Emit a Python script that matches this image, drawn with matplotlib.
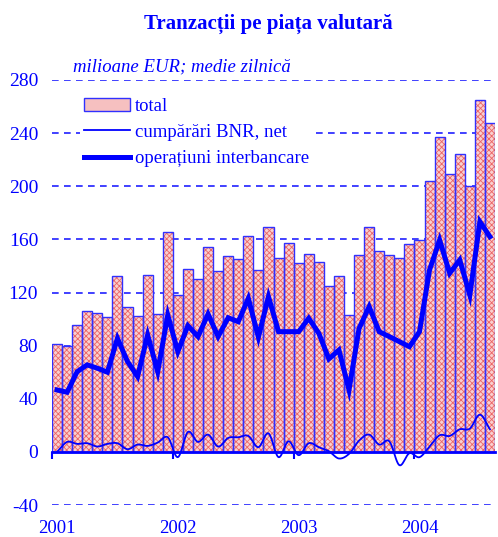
import numpy as np
import matplotlib
matplotlib.use("Agg")
import matplotlib.pyplot as plt
from matplotlib.patches import Patch
from matplotlib.transforms import blended_transform_factory

# monthly data, Jan 2001 - Aug 2004 (milioane EUR, medie zilnica)
total = [81.5, 80, 95.5, 105.8, 104.6, 101.3, 132.2, 109.3, 102, 132.9, 104, 165.8,
         117.9, 137.4, 129.9, 154, 136.2, 147.5, 145.2, 162.5, 136.7, 169.5, 146, 157.3,
         142, 148.7, 142.7, 125.2, 132.4, 102.8, 148, 169.3, 151, 148, 146.2, 156.5,
         159.8, 203.7, 236.8, 209, 224, 200, 265, 248]
interbancare = [46.6, 44.9, 60.4, 65.5, 63, 60, 85.5, 68, 56.7, 88, 60.4, 103,
                75.5, 95, 86.8, 103.8, 86.8, 101, 98, 115.6, 86.3, 116.9, 90.5, 90.5,
                90.5, 100.6, 89.3, 70, 76.7, 46.6, 93, 109.3, 90.5, 86.8, 83, 79.2,
                90.5, 137, 159.5, 134.5, 144.5, 118, 173.3, 162]
bnr_net = [0, 7.5, 6, 6.5, 4, 6, 6.5, 2, 5.5, 4.5, 7, 11,
           -4, 15, 7.5, 13, 4, 10.5, 11, 12, 3.5, 14, -4, 8,
           -2.5, 6.5, 3.5, 0.5, -5, -1.5, 8.5, 13, 5.5, 8, -10, -1,
           -4, 4, 12.5, 12, 17, 17.5, 28, 17]
years = ['2001', '2002', '2003', '2004']
yticks = [-40, 0, 40, 80, 120, 160, 200, 240, 280]

BLUE = '#0000ff'
plt.rcParams['font.family'] = ['Liberation Serif', 'DejaVu Serif']
plt.rcParams['hatch.linewidth'] = 0.6


def smooth(x, y, n=12):
    # catmull-rom curve through the points (like excel "smoothed line")
    x = np.asarray(x, float)
    y = np.asarray(y, float)
    px = np.concatenate([[2 * x[0] - x[1]], x, [2 * x[-1] - x[-2]]])
    py = np.concatenate([[2 * y[0] - y[1]], y, [2 * y[-1] - y[-2]]])
    xs, ys = [], []
    t = np.linspace(0, 1, n, endpoint=False)
    for i in range(1, len(px) - 2):
        for p, out in ((px, xs), (py, ys)):
            p0, p1, p2, p3 = p[i - 1], p[i], p[i + 1], p[i + 2]
            out.extend(0.5 * (2 * p1 + (-p0 + p2) * t
                              + (2 * p0 - 5 * p1 + 4 * p2 - p3) * t ** 2
                              + (-p0 + 3 * p1 - 3 * p2 + p3) * t ** 3))
    xs.append(x[-1])
    ys.append(y[-1])
    return np.array(xs), np.array(ys)


fig = plt.figure(figsize=(4.98, 5.37), dpi=100)
ax = fig.add_axes([52 / 498, 32 / 537, 443 / 498, 425 / 537])

x = np.arange(len(total))

ax.bar(x, total, width=1.0, color='#f9cfcf', edgecolor='#ec6464', hatch='xxxxxx',
       linewidth=0, zorder=2)
ax.bar(x, total, width=1.0, fill=False, edgecolor='#3030ff', linewidth=1.0, zorder=3)
sx, sy = smooth(x, bnr_net)
l_bnr, = ax.plot(sx, sy, color=BLUE, linewidth=1.3, zorder=4)
l_int, = ax.plot(x, interbancare, color=BLUE, linewidth=3.6, zorder=5,
                 solid_joinstyle='miter')

ax.set_xlim(-0.5, len(total) - 0.5)
ax.set_ylim(-40, 280)
ax.set_yticks(yticks)
ax.set_yticklabels([str(v) for v in yticks], color=BLUE, fontsize=14)
ax.tick_params(axis='y', length=0, pad=10)
for v in yticks:
    if v != 0:
        ax.axhline(v, color='#2020ff', linewidth=1.2, dashes=(4, 3.2), zorder=1)

for s in ['left', 'right', 'top']:
    ax.spines[s].set_visible(False)
ax.spines['bottom'].set_position(('data', 0))
ax.spines['bottom'].set_color(BLUE)
ax.spines['bottom'].set_linewidth(2.0)
ax.spines['bottom'].set_zorder(6)
ax.set_xticks(np.arange(0, len(total) + 1, 12) - 0.5)
ax.set_xticklabels([])
ax.tick_params(axis='x', direction='out', length=5, width=1.5, color=BLUE)

trans = blended_transform_factory(ax.transData, ax.transAxes)
for i, yr in enumerate(years):
    ax.text(i * 12, -0.035, yr, transform=trans, ha='center', va='top',
            color=BLUE, fontsize=13.5)

h_total = Patch(facecolor='#f6c0c0', edgecolor='#3030ff', linewidth=1.0)
leg = ax.legend([h_total, l_bnr, l_int],
                ['total', 'cumpărări BNR, net', 'operațiuni interbancare'],
                loc='upper left', bbox_to_anchor=(80 / 498, 1 - 94 / 537),
                bbox_transform=fig.transFigure, frameon=True, fancybox=False,
                framealpha=1, edgecolor='none', facecolor='white', fontsize=13.5,
                handlelength=2.45, handletextpad=0.3, labelspacing=0.48, borderpad=0.2,
                borderaxespad=0)
for t in leg.get_texts():
    t.set_color(BLUE)
leg.set_zorder(7)

fig.text(268 / 498, 1 - 24 / 537, 'Tranzacții pe piața valutară', ha='center', va='center',
         color=BLUE, fontsize=15, fontweight='bold')
fig.text(73 / 498, 1 - 67 / 537, 'milioane EUR; medie zilnică', ha='left', va='center',
         color=BLUE, fontsize=13.5, fontstyle='italic')

fig.savefig('out.png', dpi=100)
